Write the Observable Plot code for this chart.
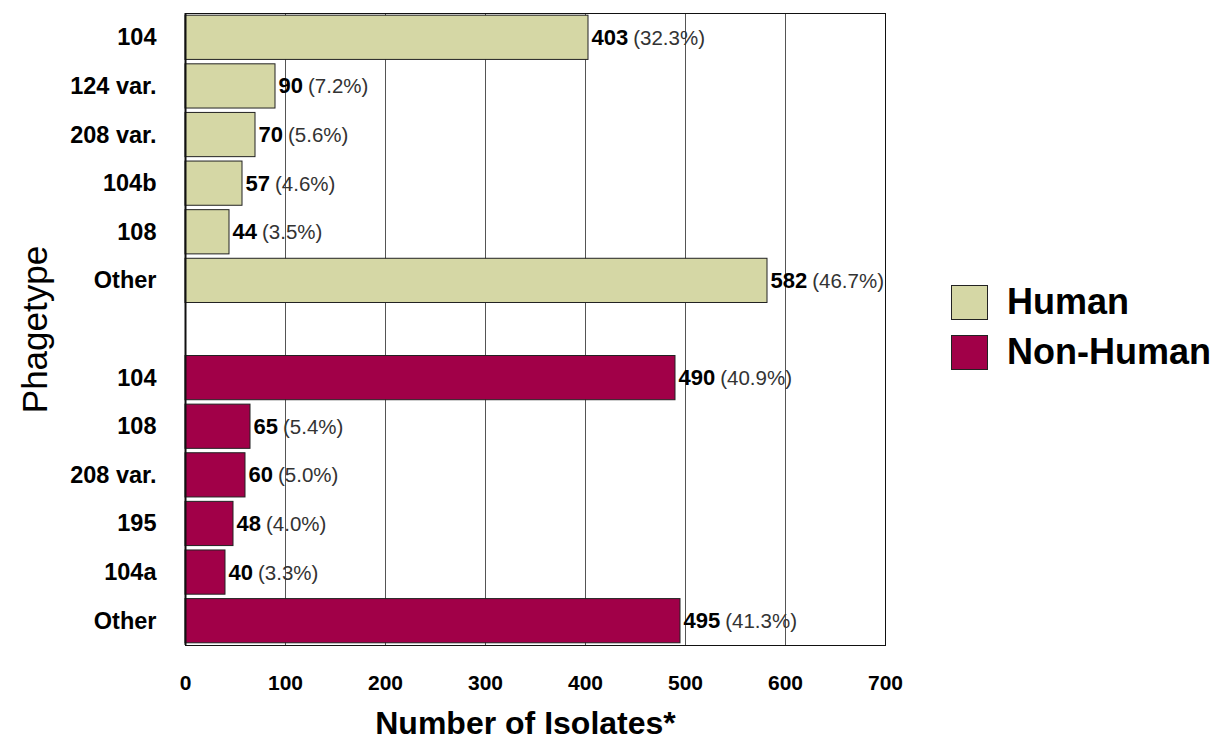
<!DOCTYPE html>
<html>
<head>
<meta charset="utf-8">
<script src="https://cdn.jsdelivr.net/npm/d3@7"></script>
<script src="https://cdn.jsdelivr.net/npm/@observablehq/plot@0.6"></script>
<style>
  html, body { margin: 0; padding: 0; background: #fff; }
  #wrap { position: relative; width: 1214px; height: 742px; font-family: "Liberation Sans", Arial, Helvetica, sans-serif; }
  #wrap svg { font-family: "Liberation Sans", Arial, Helvetica, sans-serif; }
  #wrap svg g[aria-label^="y-axis"] text { font-size: 23.5px; font-weight: bold; fill: #000; }
  #wrap svg g[aria-label^="x-axis"] text { font-size: 21px; font-weight: bold; fill: #000; }
  .legend { position: absolute; left: 951px; top: 277px; }
  .legend .item { display: flex; align-items: center; height: 50px; }
  .legend .sw { width: 37px; height: 35px; border: 1px solid #222; box-sizing: border-box; margin-right: 19px; }
  .legend .lab { font-size: 36px; font-weight: bold; color: #000; }
</style>
</head>
<body>
<div id="wrap"></div>
<script>
// ---- data ----
const groups = ["Human", "Non-Human"];
const groupColors = ["#d5d7a5", "#a10048"];
const humanTypes = ["104", "124 var.", "208 var.", "104b", "108", "Other"];
const humanCounts = [403, 90, 70, 57, 44, 582];
const humanPct = ["32.3%", "7.2%", "5.6%", "4.6%", "3.5%", "46.7%"];
const nonHumanTypes = ["104", "108", "208 var.", "195", "104a", "Other"];
const nonHumanCounts = [490, 65, 60, 48, 40, 495];
const nonHumanPct = ["40.9%", "5.4%", "5.0%", "4.0%", "3.3%", "41.3%"];
const xTicks = [0, 100, 200, 300, 400, 500, 600, 700];
const gridTicks = [100, 200, 300, 400, 500, 600];

// ---- build rows ----
const rows = [
  ...humanTypes.map((t, i) => ({group: "Human", key: "H|" + i, type: t, count: humanCounts[i], pct: humanPct[i]})),
  ...nonHumanTypes.map((t, i) => ({group: "Non-Human", key: "N|" + i, type: t, count: nonHumanCounts[i], pct: nonHumanPct[i]}))
];
const gapKey = "gap";
const yDomain = [...rows.filter(r => r.group === "Human").map(r => r.key), gapKey, ...rows.filter(r => r.group === "Non-Human").map(r => r.key)];
const labelOf = new Map(rows.map(r => [r.key, r.type]));
labelOf.set(gapKey, "");

const chart = Plot.plot({
  width: 1214,
  height: 742,
  marginLeft: 185,
  marginRight: 329,
  marginTop: 13,
  marginBottom: 97,
  x: {domain: [0, 700], ticks: xTicks, tickSize: 0, tickPadding: 30, label: null},
  y: {domain: yDomain, padding: 0, round: false, tickSize: 0, tickPadding: 29, tickFormat: k => labelOf.get(k), label: null},
  color: {domain: groups, range: groupColors},
  marks: [
    Plot.ruleX(gridTicks, {stroke: "#555", strokeWidth: 1}),
    Plot.barX(rows, {x: "count", y: "key", fill: "group", stroke: "#222", strokeWidth: 1, insetTop: 2.2, insetBottom: 2.2}),
    Plot.frame({stroke: "#111", strokeWidth: 1}),
    Plot.ruleX([0], {stroke: "#111", strokeWidth: 2}),
    Plot.text(rows, {x: "count", y: "key", text: d => d.count + "|" + "(" + d.pct + ")", textAnchor: "start", dx: 3, fontSize: 22, fontWeight: "bold", fill: "#000"}),
    Plot.text(["Number of Isolates*"], {frameAnchor: "bottom", dy: 88, dx: -10, fontSize: 32, fontWeight: "bold", fill: "#000"}),
    Plot.text(["Phagetype"], {frameAnchor: "left", textAnchor: "middle", dx: -150, rotate: -90, fontSize: 35, fill: "#000"})
  ]
});

const wrap = document.getElementById("wrap");
wrap.appendChild(chart);

// split value labels into bold count + normal percentage
chart.querySelectorAll("text").forEach(t => {
  if (t.children.length || !t.textContent.includes("|")) return;
  const [num, pct] = t.textContent.split("|");
  t.textContent = "";
  const a = document.createElementNS("http://www.w3.org/2000/svg", "tspan");
  a.textContent = num;
  const b = document.createElementNS("http://www.w3.org/2000/svg", "tspan");
  b.textContent = pct;
  b.setAttribute("dx", "5");
  b.setAttribute("font-weight", "normal");
  b.setAttribute("font-size", "20.5");
  b.setAttribute("fill", "#333");
  t.appendChild(a);
  t.appendChild(b);
});

// legend
const legend = document.createElement("div");
legend.className = "legend";
groups.forEach((g, i) => {
  const item = document.createElement("div");
  item.className = "item";
  const sw = document.createElement("div");
  sw.className = "sw";
  sw.style.background = groupColors[i];
  const lab = document.createElement("div");
  lab.className = "lab";
  lab.textContent = g;
  item.appendChild(sw);
  item.appendChild(lab);
  legend.appendChild(item);
});
wrap.appendChild(legend);
</script>
</body>
</html>
